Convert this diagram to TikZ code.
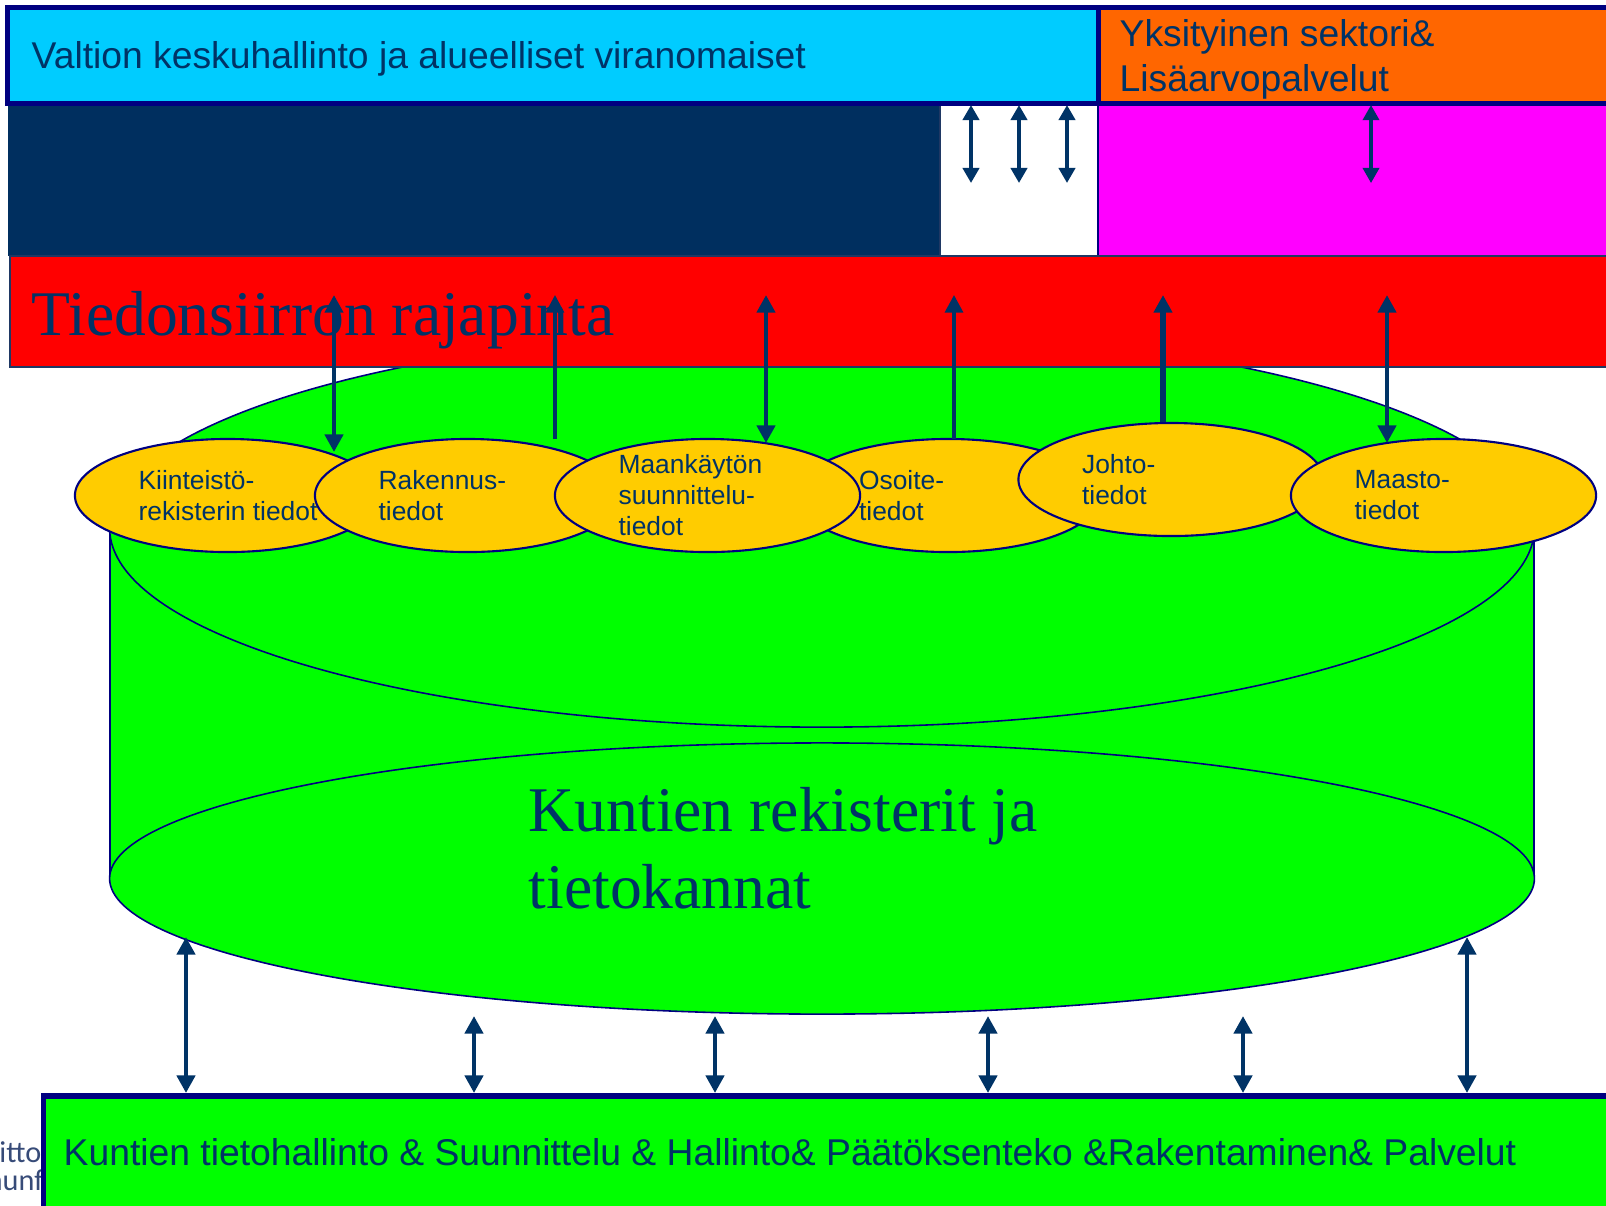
\documentclass[tikz,border=0pt]{standalone}
\usepackage{fontspec}
\setmainfont{Liberation Serif}
\setsansfont{Liberation Sans}
\newfontfamily\logofont{Carlito}
\usetikzlibrary{arrows.meta,shapes.geometric}
\definecolor{cyanbox}{RGB}{0,204,255}
\definecolor{orangebox}{RGB}{255,102,0}
\definecolor{bordernavy}{RGB}{0,0,128}
\definecolor{darkfill}{RGB}{0,47,95}
\definecolor{magentabox}{RGB}{255,0,255}
\definecolor{redbox}{RGB}{255,0,0}
\definecolor{greenbox}{RGB}{0,255,0}
\definecolor{yellowell}{RGB}{255,204,0}
\definecolor{txtnavy}{RGB}{0,51,102}
\definecolor{arrowc}{RGB}{0,51,102}
\definecolor{logogray}{RGB}{55,75,120}
\definecolor{thinedge}{RGB}{31,56,100}
\tikzset{
  sanstext/.style={font=\fontsize{10.6}{13}\selectfont\sffamily, text=txtnavy, inner sep=0pt},
  serifbig/.style={font=\fontsize{18.1}{21.9}\selectfont\rmfamily, text=txtnavy, inner sep=0pt},
  datael/.style={ellipse, draw=bordernavy, line width=0.6pt, fill=yellowell,
    minimum width=3.05cm, minimum height=1.13cm, inner sep=0pt},
  eltext/.style={font=\fontsize{7.5}{8.8}\selectfont\sffamily, text=txtnavy,
    align=left, anchor=west, inner sep=0pt},
  cylline/.style={draw=bordernavy, line width=0.45pt},
  smallbi/.style={draw=arrowc, {Triangle[width=4.6pt,length=4.3pt]}-{Triangle[width=4.6pt,length=4.3pt]}},
  bigbi/.style={draw=arrowc, {Triangle[width=5.1pt,length=5pt]}-{Triangle[width=5.1pt,length=5pt]}},
  bigup/.style={draw=arrowc, -{Triangle[width=5.1pt,length=5pt]}},
  logotext/.style={font=\fontsize{8.6}{10}\selectfont\logofont, text=logogray, inner sep=0pt}
}
\begin{document}
\begin{tikzpicture}[x=0.01cm,y=-0.01cm]
\useasboundingbox (0,0) rectangle (1606,1205);

% second row
\fill[darkfill] (8,103) rectangle (940,256);
\filldraw[fill=white, draw=thinedge, line width=0.3pt] (940,103) rectangle (1098,256);
\filldraw[fill=magentabox, draw=bordernavy, line width=0.4pt] (1098,103) rectangle (1620,256);

% top boxes
\filldraw[fill=cyanbox, draw=bordernavy, line width=1.5pt] (7.5,7.5) rectangle (1098.5,103.5);
\filldraw[fill=orangebox, draw=bordernavy, line width=1.5pt] (1098.5,7.5) rectangle (1620,103.5);
\node[sanstext, anchor=base west] (valtion) at (31,68) {Valtion keskuhallinto ja alueelliset viranomaiset};
\node[sanstext, anchor=base west] (yks1) at (1119,46) {Yksityinen sektori\&};
\node[sanstext, anchor=base west] (yks2) at (1119,91) {Lisäarvopalvelut};

% cylinder
\fill[greenbox] (110,528) rectangle (1534,878);
\draw[cylline] (110,528) -- (110,878);
\draw[cylline] (1534,528) -- (1534,878);
\filldraw[cylline, fill=greenbox] (822,528) ellipse [x radius=7.12cm, y radius=1.99cm];
\filldraw[cylline, fill=greenbox] (822,878.5) ellipse [x radius=7.12cm, y radius=1.355cm];
\node[serifbig, anchor=base west] (kr1) at (528,831) {Kuntien rekisterit ja};
\node[serifbig, anchor=base west] (kr2) at (528,908) {tietokannat};

% red interface bar
\filldraw[fill=redbox, draw=thinedge, line width=0.6pt] (10,256) rectangle (1620,367);
\node[serifbig, anchor=base west] (tied) at (31,335) {Tiedonsiirron rajapinta};

% data ellipses
\node[datael] (e1) at (227.5,495.5) {};
\node[datael] (e2) at (467.5,495.5) {};
\node[datael] (e4) at (948,495.5) {};
\node[datael] (e3) at (707.5,495.5) {};
\node[datael] (e5) at (1171,479.5) {};
\node[datael] (e6) at (1443.5,495.5) {};
\node[eltext] (t1) at ([xshift=0.64cm]e1.west) {Kiinteistö-\\rekisterin tiedot};
\node[eltext] (t2) at ([xshift=0.64cm]e2.west) {Rakennus-\\tiedot};
\node[eltext] (t3) at ([xshift=0.64cm]e3.west) {Maankäytön\\suunnittelu-\\tiedot};
\node[eltext] (t4) at ([xshift=0.64cm]e4.west) {Osoite-\\tiedot};
\node[eltext] (t5) at ([xshift=0.64cm]e5.west) {Johto-\\tiedot};
\node[eltext] (t6) at ([xshift=0.64cm]e6.west) {Maasto-\\tiedot};

% logo text behind bottom box
\node[logotext, anchor=base east] (logo1) at (42,1162) {Kuntaliitto};
\node[logotext, anchor=base west] (logo2) at (2,1190) {\llap{Komm}unförbundet};

% bottom box
\filldraw[fill=greenbox, draw=bordernavy, line width=1.6pt] (43.5,1096) rectangle (1620,1225);
\node[sanstext, anchor=base west] (kunt) at (63,1165) {Kuntien tietohallinto \& Suunnittelu \& Hallinto\& Päätöksenteko \&Rakentaminen\& Palvelut};

% arrows in the second row
\coordinate (w1t) at (971,105);  \coordinate (w1b) at (971,183);
\coordinate (w2t) at (1019,105); \coordinate (w2b) at (1019,183);
\coordinate (w3t) at (1067,105); \coordinate (w3b) at (1067,183);
\coordinate (m1t) at (1371,105); \coordinate (m1b) at (1371,183);
\draw[smallbi, line width=1.1pt] (w1t) -- (w1b);
\draw[smallbi, line width=1.1pt] (w2t) -- (w2b);
\draw[smallbi, line width=1.1pt] (w3t) -- (w3b);
\draw[smallbi, line width=0.9pt] (m1t) -- (m1b);

% arrows between interface and data
\coordinate (r1t) at (334,295);  \coordinate (r1b) at (334,452);
\coordinate (r2t) at (555,295);  \coordinate (r2b) at (555,439);
\coordinate (r3t) at (766,295);  \coordinate (r3b) at (766,443);
\coordinate (r4t) at (954,295);  \coordinate (r4b) at (954,439);
\coordinate (r5t) at (1163,295);
\coordinate (r6t) at (1387,295); \coordinate (r6b) at (1387,443);
\draw[bigbi, line width=1.4pt] (r1b) -- (r1t);
\draw[bigup, line width=0.9pt] (r2b) -- (r2t);
\draw[bigbi, line width=1.4pt] (r3b) -- (r3t);
\draw[bigup, line width=1.0pt] (r4b) -- (r4t);
\draw[bigup, line width=1.7pt] (r5t |- e5.north) -- (r5t);
\draw[bigbi, line width=1.4pt] (r6b) -- (r6t);

% arrows between database and bottom box
\coordinate (b1t) at (186,937);   \coordinate (b1b) at (186,1093);
\coordinate (b2t) at (474,1016);  \coordinate (b2b) at (474,1093);
\coordinate (b3t) at (715,1016);  \coordinate (b3b) at (715,1093);
\coordinate (b4t) at (988,1016);  \coordinate (b4b) at (988,1093);
\coordinate (b5t) at (1243,1016); \coordinate (b5b) at (1243,1093);
\coordinate (b6t) at (1467,937);  \coordinate (b6b) at (1467,1093);
\draw[bigbi, line width=1.4pt] (b1t) -- (b1b);
\draw[bigbi, line width=1.4pt] (b2t) -- (b2b);
\draw[bigbi, line width=1.4pt] (b3t) -- (b3b);
\draw[bigbi, line width=1.4pt] (b4t) -- (b4b);
\draw[bigbi, line width=1.4pt] (b5t) -- (b5b);
\draw[bigbi, line width=1.4pt] (b6t) -- (b6b);
\end{tikzpicture}
\end{document}
